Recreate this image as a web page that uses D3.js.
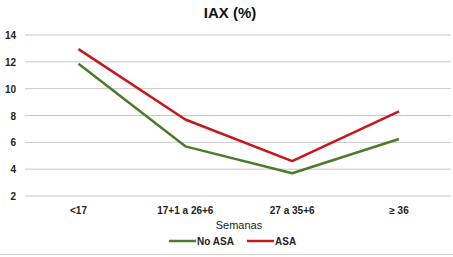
<!DOCTYPE html>
<html>
<head>
<meta charset="utf-8">
<script src="https://cdn.jsdelivr.net/npm/d3@7"></script>
<style>
  body { margin: 0; background: #fff; }
  svg { display: block; font-family: "Liberation Sans", Arial, sans-serif; }
</style>
</head>
<body>
<div id="chart"></div>
<script>
const width = 453
const height = 257

const categories = ["<17", "17+1 a 26+6", "27 a 35+6", "≥ 36"]
const noAsa = [11.85, 5.7, 3.7, 6.25]
const asa = [12.95, 7.7, 4.6, 8.3]
const yTicks = [2, 4, 6, 8, 10, 12, 14]
const seriesNames = ["No ASA", "ASA"]
const colors = ["#4b7b2b", "#c8161d"]

const svg = d3.select("#chart")
  .append("svg")
  .attr("width", width)
  .attr("height", height)

const xScale = d3.scalePoint()
  .domain(categories)
  .range([78.5, 399])

const yScale = d3.scaleLinear()
  .domain([2, 14])
  .range([196, 35])

// gridlines
svg.selectAll("line.grid")
  .data(yTicks)
  .join("line")
  .attr("class", "grid")
  .attr("x1", 25)
  .attr("x2", 451)
  .attr("y1", d => yScale(d))
  .attr("y2", d => yScale(d))
  .attr("stroke", "#c8c8c8")
  .attr("stroke-width", 1)

// y tick labels
svg.selectAll("text.ytick")
  .data(yTicks)
  .join("text")
  .attr("class", "ytick")
  .attr("x", 16)
  .attr("y", d => yScale(d) + 4)
  .attr("text-anchor", "end")
  .attr("font-size", 10)
  .attr("font-weight", "bold")
  .attr("fill", "#222")
  .text(d => d)

// x tick labels
svg.selectAll("text.xtick")
  .data(categories)
  .join("text")
  .attr("class", "xtick")
  .attr("x", d => xScale(d))
  .attr("y", 214)
  .attr("text-anchor", "middle")
  .attr("font-size", 10)
  .attr("font-weight", "bold")
  .attr("fill", "#222")
  .text(d => d)

// title
svg.append("text")
  .attr("x", 230)
  .attr("y", 18)
  .attr("text-anchor", "middle")
  .attr("font-size", 15)
  .attr("font-weight", "bold")
  .attr("fill", "#111")
  .text("IAX (%)")

// axis title
svg.append("text")
  .attr("x", 239)
  .attr("y", 229)
  .attr("text-anchor", "middle")
  .attr("font-size", 11)
  .attr("fill", "#222")
  .text("Semanas")

const lineFunc = d3.line()
  .x((d, i) => xScale(categories[i]))
  .y(d => yScale(d))

svg.selectAll("path.trend")
  .data([noAsa, asa])
  .join("path")
  .attr("class", "trend")
  .attr("d", d => lineFunc(d))
  .attr("fill", "none")
  .attr("stroke", (d, i) => colors[i])
  .attr("stroke-width", 2.5)
  .attr("stroke-linejoin", "round")

// legend
const legendX = [169, 247]
const legend = svg.selectAll("g.legend")
  .data(seriesNames)
  .join("g")
  .attr("class", "legend")
  .attr("transform", (d, i) => `translate(${legendX[i]},241)`)

legend.append("line")
  .attr("x1", 0)
  .attr("x2", 27)
  .attr("stroke", (d, i) => colors[i])
  .attr("stroke-width", 2.5)

legend.append("text")
  .attr("x", 28)
  .attr("y", 4)
  .attr("font-size", 10)
  .attr("font-weight", "bold")
  .attr("fill", "#222")
  .text(d => d)

// chart border bottom
svg.append("line")
  .attr("x1", 0)
  .attr("x2", width)
  .attr("y1", 254.5)
  .attr("y2", 254.5)
  .attr("stroke", "#d0d0d0")
</script>
</body>
</html>
